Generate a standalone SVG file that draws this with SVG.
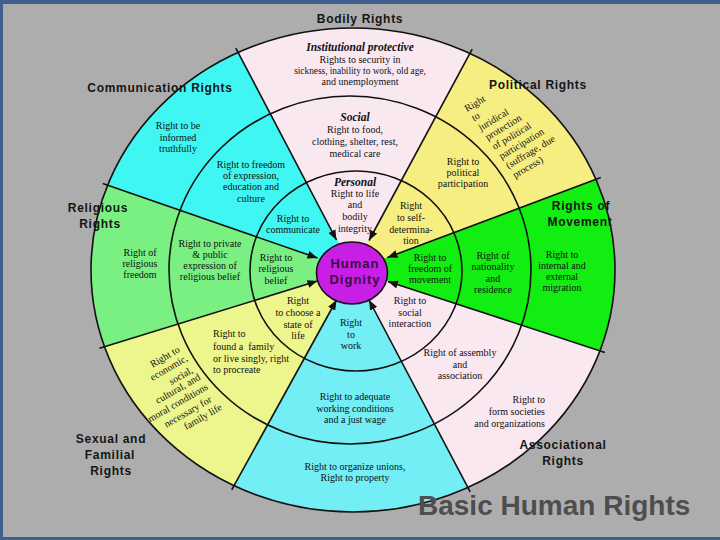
<svg xmlns="http://www.w3.org/2000/svg" width="720" height="540" viewBox="0 0 720 540">
<defs>
<style>
.t{font-family:"Liberation Serif","Times New Roman",serif;font-size:10px;fill:#111;text-anchor:middle}
.hi{font-weight:bold;font-style:italic;font-size:11.5px}
.lbl{font-family:"Liberation Sans",Arial,sans-serif;font-weight:bold;font-size:12px;letter-spacing:0.7px;fill:#151515;text-anchor:middle}
.ring{fill:none;stroke:#111;stroke-width:1.6}
.con{stroke:#111;stroke-width:1.6;fill:none;marker-end:url(#ah)}
</style>
<marker id="ah" markerUnits="userSpaceOnUse" markerWidth="11" markerHeight="8" refX="10" refY="4" orient="auto">
<path d="M0,0 L10,4 L0,8 Z" fill="#111"/>
</marker>
</defs>
<rect x="0" y="0" width="720" height="540" fill="#adadad"/>
<rect x="0" y="0" width="720" height="4" fill="#3f5f8e"/>
<rect x="0" y="0" width="3" height="540" fill="#3f5f8e"/>
<rect x="0" y="537" width="720" height="3" fill="#3f5f8e"/>

<g id="sector-bodily">
<path d="M353,270 L238.1,52.5 A262,242 0 0 1 469.9,53.4 Z" fill="#fae8f1"/>
</g>
<g id="sector-political">
<path d="M353,270 L469.9,53.4 A262,242 0 0 1 595.9,179.3 Z" fill="#f6ee80"/>
</g>
<g id="sector-movement">
<path d="M353,270 L595.9,179.3 A262,242 0 0 1 600,350.8 Z" fill="#12ee12"/>
</g>
<g id="sector-associational">
<path d="M353,270 L600,350.8 A262,242 0 0 1 467.9,487.5 Z" fill="#fae8f1"/>
</g>
<g id="sector-work">
<path d="M353,270 L467.9,487.5 A262,242 0 0 1 234.1,485.6 Z" fill="#73eef4"/>
</g>
<g id="sector-familial">
<path d="M353,270 L234.1,485.6 A262,242 0 0 1 104.5,346.8 Z" fill="#edf68c"/>
</g>
<g id="sector-religious">
<path d="M353,270 L104.5,346.8 A262,242 0 0 1 107.6,185.3 Z" fill="#7af083"/>
</g>
<g id="sector-communication">
<path d="M353,270 L107.6,185.3 A262,242 0 0 1 238.1,52.5 Z" fill="#3ff6f3"/>
</g>

<g id="rings">
<ellipse class="ring" cx="353" cy="270" rx="262" ry="242"/>
<ellipse class="ring" cx="350" cy="270" rx="181" ry="174"/>
<ellipse class="ring" cx="356" cy="271" rx="106" ry="100"/>
</g>

<g id="connectors">
<line class="con" x1="235.8" y1="48.1" x2="336.5" y2="240"/>
<line class="con" x1="472.2" y1="49.1" x2="369" y2="240.5"/>
<line class="con" x1="600.8" y1="177.5" x2="387.5" y2="257.5"/>
<line class="con" x1="604.9" y1="352.4" x2="388" y2="281.5"/>
<line class="con" x1="470.2" y1="491.9" x2="369" y2="300"/>
<line class="con" x1="231.7" y1="489.9" x2="336.5" y2="300"/>
<line class="con" x1="99.5" y1="348.3" x2="317.5" y2="281"/>
<line class="con" x1="102.7" y1="183.6" x2="317.5" y2="258"/>
</g>

<g id="hub">
<ellipse cx="352" cy="273" rx="35.5" ry="31" fill="#c71fe6" stroke="#111" stroke-width="1.6"/>
<text class="lbl" x="355" y="268" style="font-size:13px;fill:#3b0b45;letter-spacing:1px">Human</text>
<text class="lbl" x="355" y="284" style="font-size:13px;fill:#3b0b45;letter-spacing:1px">Dignity</text>
</g>

<g id="text-bodily">
<text class="t hi" x="360" y="51">Institutional protective</text>
<text class="t" x="360" y="63">Rights to security in</text>
<text class="t" x="360" y="74" style="font-size:9.3px">sickness, inability to work, old age,</text>
<text class="t" x="360" y="85">and unemployment</text>
<text class="t hi" x="355" y="121">Social</text>
<text class="t" x="355" y="133">Right to food,</text>
<text class="t" x="355" y="145">clothing, shelter, rest,</text>
<text class="t" x="355" y="157">medical care</text>
<text class="t hi" x="355" y="186">Personal</text>
<text class="t" x="355" y="197">Right to life</text>
<text class="t" x="355" y="208">and</text>
<text class="t" x="355" y="220">bodily</text>
<text class="t" x="355" y="232">integrity</text>
</g>

<g id="text-communication">
<text class="t" x="178" y="129">Right to be</text>
<text class="t" x="178" y="141">informed</text>
<text class="t" x="178" y="152">truthfully</text>
<text class="t" x="251" y="168">Right to freedom</text>
<text class="t" x="251" y="179">of expression,</text>
<text class="t" x="251" y="190">education and</text>
<text class="t" x="251" y="202">culture</text>
<text class="t" x="293" y="222">Right to</text>
<text class="t" x="293" y="233">communicate</text>
</g>

<g id="text-religious">
<text class="t" x="140" y="256">Right of</text>
<text class="t" x="140" y="267">religious</text>
<text class="t" x="140" y="278">freedom</text>
<text class="t" x="210" y="247">Right to private</text>
<text class="t" x="210" y="258">&amp; public</text>
<text class="t" x="210" y="269">expression of</text>
<text class="t" x="210" y="280">religious belief</text>
<text class="t" x="276" y="261">Right to</text>
<text class="t" x="276" y="272">religious</text>
<text class="t" x="276" y="284">belief</text>
</g>

<g id="text-familial">
<text class="t" x="298" y="304">Right</text>
<text class="t" x="298" y="316">to choose a</text>
<text class="t" x="298" y="328">state of</text>
<text class="t" x="298" y="339">life</text>
<text class="t" x="213" y="337" style="text-anchor:start">Right to</text>
<text class="t" x="213" y="350" style="text-anchor:start;white-space:pre" xml:space="preserve">found a  family</text>
<text class="t" x="213" y="362" style="text-anchor:start">or live singly, right</text>
<text class="t" x="213" y="373" style="text-anchor:start">to procreate</text>
<text class="t" transform="translate(165,357) rotate(-30)" y="3">Right to</text>
<text class="t" transform="translate(169,368) rotate(-30)" y="3">economic,</text>
<text class="t" transform="translate(181,376) rotate(-30)" y="3">social,</text>
<text class="t" transform="translate(178,389) rotate(-30)" y="3">cultural, and</text>
<text class="t" transform="translate(178,403) rotate(-30)" y="3">moral conditions</text>
<text class="t" transform="translate(188,412) rotate(-30)" y="3">necessary for</text>
<text class="t" transform="translate(203,417) rotate(-30)" y="3">family life</text>
</g>

<g id="text-work">
<text class="t" x="351" y="326">Right</text>
<text class="t" x="351" y="338">to</text>
<text class="t" x="351" y="349">work</text>
<text class="t" x="355" y="400">Right to adequate</text>
<text class="t" x="355" y="412">working conditions</text>
<text class="t" x="355" y="423">and a just wage</text>
<text class="t" x="355" y="470">Right to organize unions,</text>
<text class="t" x="355" y="481">Right to property</text>
</g>

<g id="text-associational">
<text class="t" x="410" y="304">Right to</text>
<text class="t" x="410" y="316">social</text>
<text class="t" x="410" y="327">interaction</text>
<text class="t" x="460" y="356">Right of assembly</text>
<text class="t" x="460" y="368">and</text>
<text class="t" x="460" y="379">association</text>
<text class="t" x="545" y="403" style="text-anchor:end">Right to</text>
<text class="t" x="545" y="415" style="text-anchor:end">form societies</text>
<text class="t" x="545" y="427" style="text-anchor:end">and organizations</text>
</g>

<g id="text-movement">
<text class="t" x="430" y="261">Right to</text>
<text class="t" x="430" y="272">freedom of</text>
<text class="t" x="430" y="283">movement</text>
<text class="t" x="493" y="259">Right of</text>
<text class="t" x="493" y="270">nationality</text>
<text class="t" x="493" y="282">and</text>
<text class="t" x="493" y="293">residence</text>
<text class="t" x="562" y="258">Right to</text>
<text class="t" x="562" y="269">internal and</text>
<text class="t" x="562" y="280">external</text>
<text class="t" x="562" y="291">migration</text>
</g>

<g id="text-political">
<text class="t" x="411" y="209">Right</text>
<text class="t" x="411" y="221">to self-</text>
<text class="t" x="411" y="233">determina-</text>
<text class="t" x="411" y="244">tion</text>
<text class="t" x="463" y="165">Right to</text>
<text class="t" x="463" y="176">political</text>
<text class="t" x="463" y="187">participation</text>
<g transform="translate(467,112) rotate(-31)">
<text class="t" x="0" y="0" style="text-anchor:start">Right</text>
<text class="t" x="1" y="11.7" style="text-anchor:start">to</text>
<text class="t" x="2" y="23.4" style="text-anchor:start">juridical</text>
<text class="t" x="3" y="35.1" style="text-anchor:start">protection</text>
<text class="t" x="4" y="46.8" style="text-anchor:start">of political</text>
<text class="t" x="5" y="58.5" style="text-anchor:start">participation</text>
<text class="t" x="6" y="70.2" style="text-anchor:start">(suffrage, due</text>
<text class="t" x="7" y="81.9" style="text-anchor:start">process)</text>
</g>
</g>

<g id="labels">
<text class="lbl" x="360" y="23">Bodily Rights</text>
<text class="lbl" x="160" y="92">Communication Rights</text>
<text class="lbl" x="538" y="89">Political Rights</text>
<text class="lbl" x="98" y="212">Religious</text>
<text class="lbl" x="100" y="228">Rights</text>
<text class="lbl" x="581" y="210">Rights of</text>
<text class="lbl" x="580" y="226">Movement</text>
<text class="lbl" x="111" y="443">Sexual and</text>
<text class="lbl" x="110" y="459">Familial</text>
<text class="lbl" x="111" y="475">Rights</text>
<text class="lbl" x="563" y="449">Associational</text>
<text class="lbl" x="563" y="465">Rights</text>
</g>

<text x="418" y="515" style="font-family:'Liberation Sans',Arial,sans-serif;font-weight:bold;font-size:28px;fill:#4e4e4e">Basic Human Rights</text>
</svg>
